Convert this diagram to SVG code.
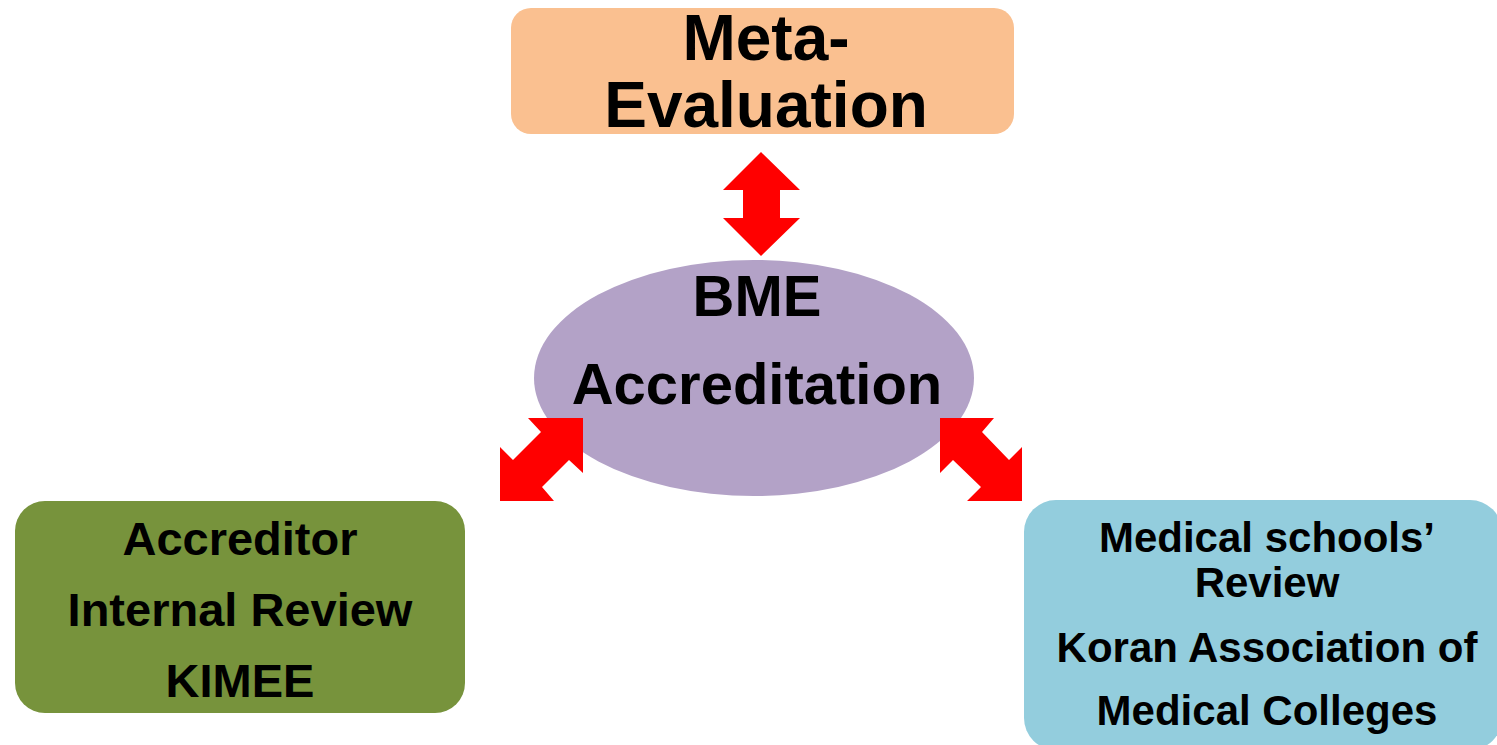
<svg xmlns="http://www.w3.org/2000/svg" width="1497" height="745" viewBox="0 0 1497 745">
<style>
text{font-family:"Liberation Sans",Arial,sans-serif;font-weight:bold;fill:#000;text-anchor:middle}
.arrow{fill:#FF0000}
</style>
<rect width="1497" height="745" fill="#fff"/>
<g id="meta-evaluation">
<rect x="511" y="8" width="503" height="126" rx="20" fill="#FAC090"/>
<text x="766" y="60" font-size="64">Meta-</text>
<text x="766" y="127" font-size="64">Evaluation</text>
</g>
<g id="bme-accreditation">
<ellipse cx="754" cy="378" rx="220" ry="118" fill="#B3A2C7"/>
<text x="757" y="316" font-size="58">BME</text>
<text x="757" y="404" font-size="58">Accreditation</text>
</g>
<g id="accreditor">
<rect x="15" y="501" width="450" height="212" rx="30" fill="#77933C"/>
<text x="240" y="555" font-size="47">Accreditor</text>
<text x="240" y="626" font-size="47">Internal Review</text>
<text x="240" y="697" font-size="47">KIMEE</text>
</g>
<g id="medical-schools">
<rect x="1024" y="500" width="478" height="250" rx="32" fill="#93CDDD"/>
<text x="1267" y="552" font-size="42">Medical schools’</text>
<text x="1267" y="597" font-size="42">Review</text>
<text x="1267" y="662" font-size="42">Koran Association of</text>
<text x="1267" y="725" font-size="42">Medical Colleges</text>
</g>
<g id="connectors">
<polygon class="arrow" points="761,152 800,190 780,190 780,218 800,218 761,256 723,218 743,218 743,190 723,190"/>
<polygon class="arrow" points="583,418 528,418 541,432 513,460 500,447 500,501 554,501 542,487 569,460 583,473"/>
<polygon class="arrow" points="940,418 994,418 982,432 1009,460 1022,447 1022,501 967,501 981,487 953,460 940,473"/>
</g>
</svg>
